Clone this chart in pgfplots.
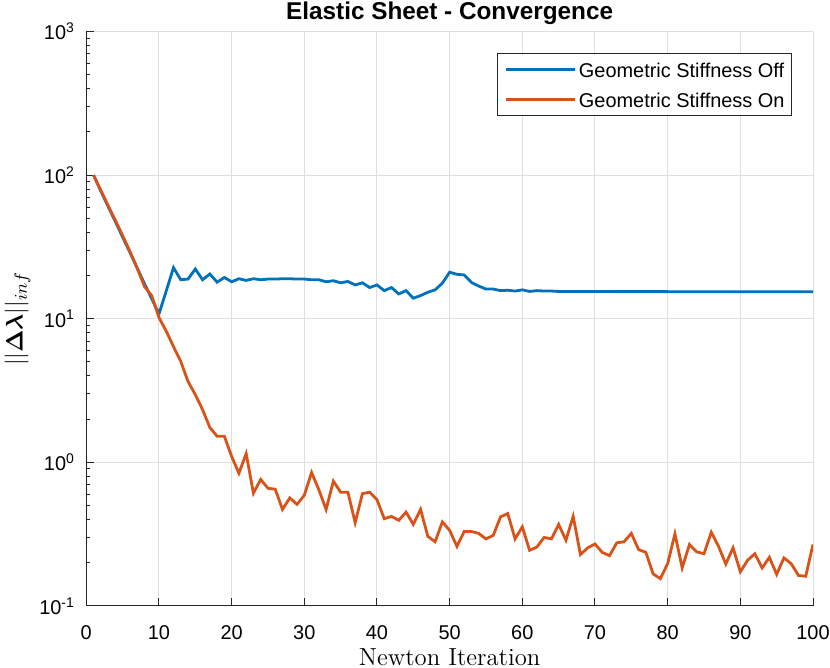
\documentclass[border=0pt]{standalone}
\usepackage{fontspec}
\usepackage{bm}
\usepackage{pgfplots}
\pgfplotsset{compat=1.18}
\newfontfamily\helv{Liberation Sans}
\definecolor{mblue}{rgb}{0,0.447,0.741}
\definecolor{morange}{rgb}{0.850,0.325,0.098}
\definecolor{axcol}{rgb}{0.15,0.15,0.15}
\definecolor{gridcol}{rgb}{0.875,0.875,0.875}
\begin{document}
\begin{tikzpicture}
\begin{axis}[
  name=ax,
  scale only axis,
  width=363.4bp, height=287.2bp,
  ymode=log,
  xmin=0, xmax=100, ymin=0.1, ymax=1000,
  xtick={0,10,...,100},
  ytick={0.1,1,10,100,1000},
  yticklabels={10\textsuperscript{-1},10\textsuperscript{0},10\textsuperscript{1},10\textsuperscript{2},10\textsuperscript{3}},
  minor ytick={0.2,0.3,0.4,0.5,0.6,0.7,0.8,0.9,2,3,4,5,6,7,8,9,20,30,40,50,60,70,80,90,200,300,400,500,600,700,800,900},
  /pgf/number format/assume math mode=true,
  axis lines*=left,
  axis line style={color=axcol, line width=0.5bp},
  tick align=inside,
  major tick length=4bp, minor tick length=2bp,
  every tick/.style={color=axcol, line width=0.5bp},
  xmajorgrids, ymajorgrids,
  major grid style={color=gridcol, line width=0.5bp},
  tick label style={font=\helv\fontsize{10}{12}\selectfont, color=black},
  yticklabel style={inner xsep=0pt, xshift=-5.5bp},
  xticklabel style={inner ysep=0pt, yshift=-9.5bp},
  every axis title shift=0pt,
  title={Elastic Sheet - Convergence},
  title style={at={(axis description cs:0.5,1)}, anchor=base, yshift=6bp, font=\helv\bfseries\fontsize{12.2}{14}\selectfont},
  xlabel={Newton Iteration},
  xlabel style={at={(axis description cs:0.5,0)}, anchor=base, yshift=-29.9bp, font=\fontsize{12.4}{14}\selectfont},
  ylabel={$||\bm{\Delta\lambda}||_{inf}$},
  ylabel style={at={(axis description cs:-0.0945,0.5)}, anchor=center, rotate=0, font=\fontsize{12.6}{14}\selectfont},
  legend style={at={(axis description cs:1,1)}, anchor=north east, xshift=-10.5bp, yshift=-10.7bp,
    draw=axcol, line width=0.5bp, fill=white, font=\helv\fontsize{10}{12}\selectfont,
    inner xsep=3.5bp, inner ysep=2bp, column sep=1.5bp, row sep=2.4bp,
    nodes={inner sep=0pt, text height=10bp, text depth=2.4bp}},
  legend cell align=left,
  legend image code/.code={\draw[#1] (0bp,0bp) -- (34.5bp,0bp);},
]
\addplot[mblue, line width=1.4bp] coordinates {
(1,100) (2,77.5) (3,60.5) (4,47.5) (5,37) (6,29) (7,22.6) (8,17.6) (9,13.8) (10,10.8)
(11,15.6) (12,22.7) (13,18.7) (14,18.9) (15,22.2) (16,18.7) (17,20.5) (18,18.0) (19,19.4) (20,18.1)
(21,19.0) (22,18.5) (23,19.0) (24,18.7) (25,18.9) (26,18.9) (27,19.0) (28,19.0) (29,18.9) (30,18.9)
(31,18.7) (32,18.7) (33,18.1) (34,18.4) (35,17.8) (36,18.2) (37,17.2) (38,17.8) (39,16.5) (40,17.2)
(41,15.7) (42,16.5) (43,14.9) (44,15.7) (45,13.9) (46,14.5) (47,15.3) (48,15.9) (49,17.7) (50,21.1)
(51,20.4) (52,20.2) (53,17.9) (54,16.9) (55,16.1) (56,16.1) (57,15.7) (58,15.8) (59,15.6) (60,15.9)
(61,15.5) (62,15.7) (63,15.6) (64,15.6) (65,15.5) (66,15.5) (67,15.5) (68,15.5) (69,15.5) (70,15.5)
(71,15.5) (72,15.5) (73,15.45) (74,15.45) (75,15.45) (76,15.45) (77,15.45) (78,15.45) (79,15.45) (80,15.45)
(81,15.4) (82,15.4) (83,15.4) (84,15.4) (85,15.4) (86,15.4) (87,15.4) (88,15.4) (89,15.4) (90,15.4)
(91,15.4) (92,15.4) (93,15.4) (94,15.4) (95,15.4) (96,15.4) (97,15.4) (98,15.4) (99,15.4) (100,15.4)
};
\addlegendentry{Geometric Stiffness Off}
\addplot[morange, line width=1.4bp] coordinates {
(1,100) (2,78.5) (3,61.5) (4,48.5) (5,38) (6,29.5) (7,22.5) (8,16.8) (9,14.5) (10,10.2)
(11,8.2) (12,6.4) (13,5.05) (14,3.66) (15,2.96) (16,2.33) (17,1.75) (18,1.52) (19,1.52) (20,1.10)
(21,0.84) (22,1.15) (23,0.61) (24,0.76) (25,0.66) (26,0.65) (27,0.47) (28,0.565) (29,0.51) (30,0.59)
(31,0.85) (32,0.645) (33,0.47) (34,0.74) (35,0.62) (36,0.62) (37,0.38) (38,0.605) (39,0.62) (40,0.55)
(41,0.405) (42,0.42) (43,0.395) (44,0.45) (45,0.37) (46,0.47) (47,0.305) (48,0.28) (49,0.385) (50,0.336)
(51,0.26) (52,0.33) (53,0.33) (54,0.32) (55,0.293) (56,0.31) (57,0.417) (58,0.44) (59,0.293) (60,0.355)
(61,0.244) (62,0.257) (63,0.30) (64,0.293) (65,0.37) (66,0.287) (67,0.42) (68,0.228) (69,0.254) (70,0.27)
(71,0.236) (72,0.224) (73,0.275) (74,0.28) (75,0.32) (76,0.247) (77,0.236) (78,0.167) (79,0.155) (80,0.197)
(81,0.318) (82,0.184) (83,0.268) (84,0.238) (85,0.231) (86,0.326) (87,0.26) (88,0.196) (89,0.254) (90,0.173)
(91,0.208) (92,0.231) (93,0.184) (94,0.218) (95,0.166) (96,0.216) (97,0.197) (98,0.163) (99,0.161) (100,0.268)
};
\addlegendentry{Geometric Stiffness On}
\end{axis}
\pgfresetboundingbox
\path[use as bounding box] ([xshift=-43.15bp,yshift=-31bp]ax.south west) rectangle ([xshift=8.5bp,yshift=15.8bp]ax.north east);
\end{tikzpicture}
\end{document}
